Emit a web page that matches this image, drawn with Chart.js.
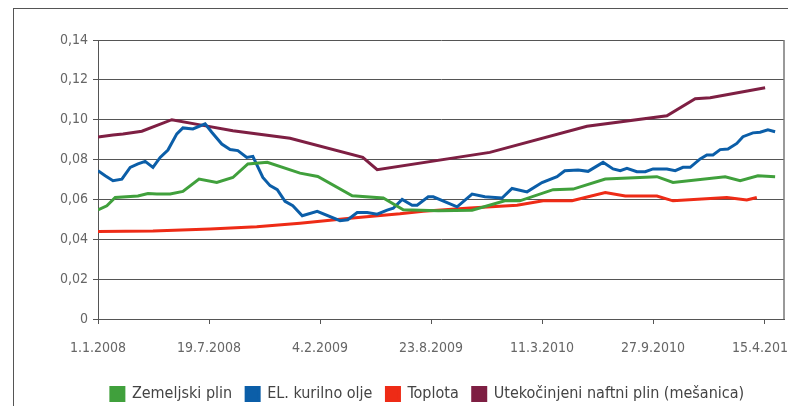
<!DOCTYPE html>
<html><head><meta charset="utf-8">
<script src="https://cdn.jsdelivr.net/npm/chart.js@4.4.1/dist/chart.umd.min.js"></script>
<style>
html,body{margin:0;padding:0;background:#fff;overflow:hidden;width:788px;height:406px;}
#frame{position:absolute;left:13px;top:8px;width:827px;height:403px;border-top:1px solid #555;border-left:1px solid #555;}
#frame canvas{display:block;}
</style></head><body>
<div id="frame"><canvas id="c"></canvas></div>
<script>
// x positions are days since 1.1.2008
const tickDays   = [0, 200, 400, 600, 800, 1000, 1200];
const tickLabels = ["1.1.2008", "19.7.2008", "4.2.2009", "23.8.2009", "11.3.2010", "27.9.2010", "15.4.2011"];
const seriesNames = ["Zemeljski plin", "EL. kurilno olje", "Toplota", "Utekočinjeni naftni plin (mešanica)"];

const gasDay   = [0,16,31,72,90,106,130,153,182,214,243,270,305,364,396,458,514,550,613,674,733,760,820,856,914,1007,1036,1130,1157,1189,1220];
const gasValue = [0.0548,0.0568,0.0610,0.0617,0.0630,0.0627,0.0627,0.0640,0.0702,0.0685,0.0710,0.0778,0.0786,0.0732,0.0715,0.0618,0.0607,0.0548,0.0543,0.0546,0.0593,0.0593,0.0649,0.0652,0.0702,0.0714,0.0685,0.0714,0.0694,0.0719,0.0714];

const oilDay   = [0,13,27,43,58,72,85,99,112,126,142,153,171,193,205,223,238,252,268,279,297,310,323,337,351,368,395,436,450,467,485,503,521,532,548,566,575,595,604,647,674,697,728,746,773,800,827,841,865,883,910,928,941,953,971,986,1000,1025,1040,1054,1067,1085,1097,1108,1121,1135,1151,1162,1180,1193,1207,1220];
const oilValue = [0.0744,0.0719,0.0694,0.0702,0.0761,0.0778,0.0791,0.0761,0.0811,0.0848,0.0929,0.0959,0.0954,0.0979,0.0937,0.0878,0.0850,0.0845,0.0811,0.0816,0.0710,0.0669,0.0649,0.0590,0.0568,0.0518,0.0540,0.0493,0.0498,0.0534,0.0534,0.0526,0.0546,0.0556,0.0600,0.0571,0.0571,0.0613,0.0613,0.0563,0.0627,0.0613,0.0607,0.0655,0.0638,0.0685,0.0714,0.0744,0.0748,0.0741,0.0786,0.0753,0.0744,0.0756,0.0739,0.0739,0.0753,0.0753,0.0744,0.0761,0.0761,0.0803,0.0823,0.0823,0.0850,0.0853,0.0881,0.0915,0.0934,0.0937,0.0949,0.0940];

const heatDay   = [0,99,202,286,364,454,544,586,670,755,802,854,914,950,1007,1036,1133,1169,1187];
const heatValue = [0.0439,0.0442,0.0452,0.0463,0.0481,0.0506,0.0528,0.0541,0.0557,0.0571,0.0593,0.0593,0.0635,0.0617,0.0617,0.0593,0.0610,0.0597,0.0610];

const lpgDay   = [0,27,45,79,133,184,243,346,477,503,706,881,1025,1076,1103,1202];
const lpgValue = [0.0913,0.0923,0.0928,0.0942,0.1000,0.0974,0.0945,0.0907,0.0811,0.0749,0.0836,0.0967,0.1020,0.1105,0.1110,0.1160];

const colors = ['#40a03c', '#0b5ea8', '#ee2b16', '#7e1f43'];
const FONT = "'Liberation Sans Narrow', 'DejaVu Sans Condensed', 'Roboto', sans-serif";

const pts = (d, v) => d.map((x, i) => ({x: x, y: v[i]}));
const series = [pts(gasDay, gasValue), pts(oilDay, oilValue), pts(heatDay, heatValue), pts(lpgDay, lpgValue)];

const frameRight = {
  id: 'frameRight',
  afterDatasetsDraw(chart) {
    const a = chart.chartArea, ctx = chart.ctx;
    ctx.save();
    ctx.strokeStyle = '#777';
    ctx.lineWidth = 1.5;
    ctx.beginPath();
    ctx.moveTo(a.right, a.top);
    ctx.lineTo(a.right, a.bottom);
    ctx.stroke();
    ctx.restore();
  }
};

new Chart(document.getElementById('c'), {
  type: 'line',
  data: {
    datasets: series.map((s, i) => ({
      label: seriesNames[i],
      data: s,
      borderColor: colors[i],
      backgroundColor: colors[i],
      borderWidth: 3,
      pointRadius: 0,
      tension: 0,
      fill: false
    }))
  },
  options: {
    responsive: true,
    maintainAspectRatio: false,
    animation: false,
    layout: {padding: {top: 31, right: 0, left: 0, bottom: 0}},
    scales: {
      x: {
        type: 'linear', min: 0, max: 1236,
        afterBuildTicks: s => { s.ticks = tickDays.map(v => ({value: v})); },
        afterFit: s => { s.height = 53; },
        ticks: {
          autoSkip: false, maxRotation: 0, padding: 16, color: '#666',
          font: {family: FONT, size: 14},
          callback: (v, i) => tickLabels[i]
        },
        grid: {drawOnChartArea: false, tickLength: 5, color: '#555'},
        border: {color: '#555', width: 1}
      },
      y: {
        min: 0, max: 0.14,
        afterFit: s => { s.width = 84; },
        ticks: {
          stepSize: 0.02, padding: 5, color: '#666',
          font: {family: FONT, size: 14},
          callback: v => (Math.abs(v) < 1e-9 ? '0' : v.toFixed(2).replace('.', ','))
        },
        grid: {color: '#555', tickLength: 5},
        border: {color: '#555', width: 1}
      },
      spacer: {
        position: 'right', display: true,
        afterFit: s => { s.width = 57; },
        ticks: {display: false},
        grid: {display: false},
        border: {display: false}
      }
    },
    plugins: {
      legend: {
        position: 'bottom',
        labels: {boxWidth: 13, boxHeight: 13, padding: 14, color: '#444', font: {family: FONT, size: 16}}
      },
      tooltip: {enabled: false}
    }
  },
  plugins: [frameRight]
});
</script>
</body></html>
